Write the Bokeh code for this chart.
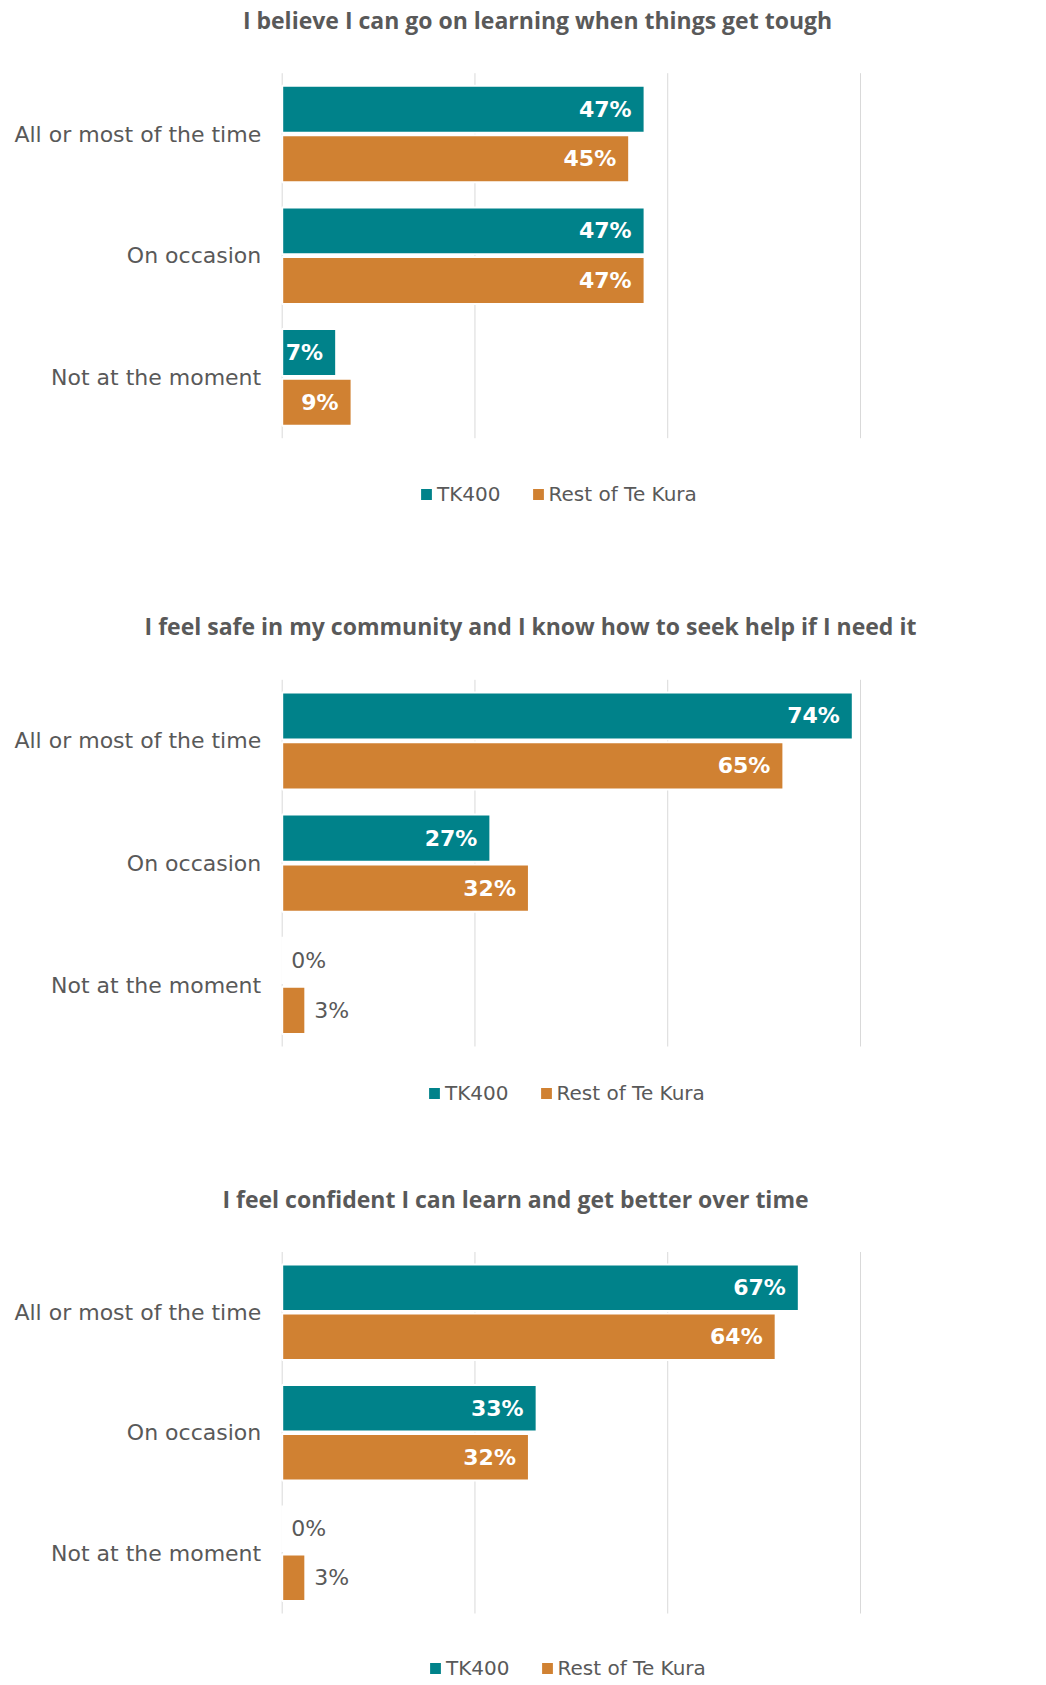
from bokeh.plotting import figure
from bokeh.models import (Range1d, ColumnDataSource, Label, Legend,
                          LegendItem, LabelSet)
from bokeh.transform import dodge
from bokeh.layouts import column
from bokeh.embed import file_html
from bokeh.resources import INLINE
from bokeh.core.properties import value

# ---------------- data ----------------
categories = ["All or most of the time", "On occasion", "Not at the moment"]
series_names = ["TK400", "Rest of Te Kura"]

title_1 = "I believe I can go on learning when things get tough"
tk400_1 = [0.47, 0.47, 0.07]
rest_1 = [0.45, 0.47, 0.09]

title_2 = "I feel safe in my community and I know how to seek help if I need it"
tk400_2 = [0.74, 0.27, 0.00]
rest_2 = [0.65, 0.32, 0.03]

title_3 = "I feel confident I can learn and get better over time"
tk400_3 = [0.67, 0.33, 0.00]
rest_3 = [0.64, 0.32, 0.03]

x_ticks = [0, 0.25, 0.5, 0.75]

# ---------------- style / layout ----------------
TEAL = "#00828A"
ORANGE = "#D08132"
GREY = "#595959"
GRID = "#D9D9D9"
BAR_H = 0.386
DODGE = 0.204
FIG_W = 1040
PLOT_LEFT = 281.7     # pixel of value 0
PLOT_RIGHT = 860.0    # pixel of last tick
LEG_H = 24


def pct(v):
    return f"{round(v * 100)}%"


def make_chart(title, tk, rest, page_top, fig_h, plot_top, plot_bottom,
               title_cx, title_cy, legend_x, legend_cy):
    # convert page positions to positions inside this figure
    plot_top -= page_top
    plot_bottom -= page_top
    title_cy -= page_top
    legend_cy -= page_top

    n = len(categories)
    ypos = [n - 1 - i for i in range(n)]
    x_max = max(x_ticks)
    ppu_x = (PLOT_RIGHT - PLOT_LEFT) / x_max
    x_start = -PLOT_LEFT / ppu_x
    x_end = (FIG_W - PLOT_LEFT) / ppu_x
    ppu_y = (plot_bottom - plot_top) / n
    y_lo, y_hi = -0.5, n - 0.5
    y_end = y_hi + plot_top / ppu_y
    y_start = y_lo - (fig_h - plot_bottom) / ppu_y

    p = figure(x_range=Range1d(x_start, x_end), y_range=Range1d(y_start, y_end),
               width=FIG_W, height=fig_h, min_border=0,
               toolbar_location=None, output_backend="svg",
               x_axis_location=None, y_axis_location=None)
    p.outline_line_color = None
    p.grid.visible = False
    p.background_fill_color = "white"
    p.border_fill_color = "white"

    # gridlines (value axis)
    p.segment(x0=x_ticks, y0=[y_lo] * len(x_ticks), x1=x_ticks,
              y1=[y_hi] * len(x_ticks), line_color=GRID, line_width=1)

    src = ColumnDataSource(dict(cat=categories, y=ypos, tk=tk, rest=rest))
    r1 = p.hbar(y=dodge("y", DODGE), left=0, right="tk", height=BAR_H,
                source=src, fill_color=TEAL, line_color="white", line_width=2)
    r2 = p.hbar(y=dodge("y", -DODGE), left=0, right="rest", height=BAR_H,
                source=src, fill_color=ORANGE, line_color="white", line_width=2)

    # category labels
    p.add_layout(LabelSet(x=0, y="y", text="cat", source=src, x_offset=-21,
                          text_align="right", text_baseline="middle",
                          text_color=GREY, text_font=value("DejaVu Sans"),
                          text_font_size="22px"))

    # data labels
    for vals, off in ((tk, DODGE), (rest, -DODGE)):
        ins = [i for i, v in enumerate(vals) if v >= 0.05]
        outs = [i for i, v in enumerate(vals) if v < 0.05]
        if ins:
            s = ColumnDataSource(dict(v=[vals[i] for i in ins],
                                      y=[ypos[i] + off for i in ins],
                                      t=[pct(vals[i]) for i in ins]))
            p.add_layout(LabelSet(x="v", y="y", text="t", source=s, x_offset=-13,
                                  text_align="right", text_baseline="middle",
                                  text_color="white",
                                  text_font=value("DejaVu Sans"),
                                  text_font_style="bold", text_font_size="22px"))
        if outs:
            s = ColumnDataSource(dict(v=[vals[i] for i in outs],
                                      y=[ypos[i] + off for i in outs],
                                      t=[pct(vals[i]) for i in outs]))
            p.add_layout(LabelSet(x="v", y="y", text="t", source=s, x_offset=9,
                                  text_align="left", text_baseline="middle",
                                  text_color=GREY,
                                  text_font=value("DejaVu Sans"),
                                  text_font_size="22px"))

    # title
    p.add_layout(Label(x=title_cx, y=fig_h - title_cy, x_units="screen",
                       y_units="screen", text=title, text_align="center",
                       text_baseline="middle", text_font="Open Sans",
                       text_font_style="bold", text_font_size="23px",
                       text_color=GREY))

    # legend (location = bottom-left corner, measured from the frame bottom)
    leg = Legend(items=[LegendItem(label=series_names[0], renderers=[r1]),
                        LegendItem(label=series_names[1], renderers=[r2])],
                 location=(legend_x, fig_h - (legend_cy + LEG_H / 2)),
                 orientation="horizontal",
                 glyph_width=16, glyph_height=16, label_standoff=3, spacing=29,
                 padding=0, margin=0, label_height=LEG_H,
                 label_text_font="DejaVu Sans", label_text_font_size="20px",
                 label_text_color=GREY, border_line_color=None,
                 background_fill_alpha=0)
    p.add_layout(leg)
    return p


p1 = make_chart(title_1, tk400_1, rest_1, 0, 558, 72.7, 437.7,
                537, 19, 418, 494)
p2 = make_chart(title_2, tk400_2, rest_2, 558, 580, 679.3, 1046.0,
                530, 625, 426, 1092.5)
p3 = make_chart(title_3, tk400_3, rest_3, 1138, 546, 1251.5, 1613.0,
                515, 1198.5, 427, 1668)

layout = column(p1, p2, p3, spacing=0)
open("out.html", "w").write(file_html(layout, INLINE))
